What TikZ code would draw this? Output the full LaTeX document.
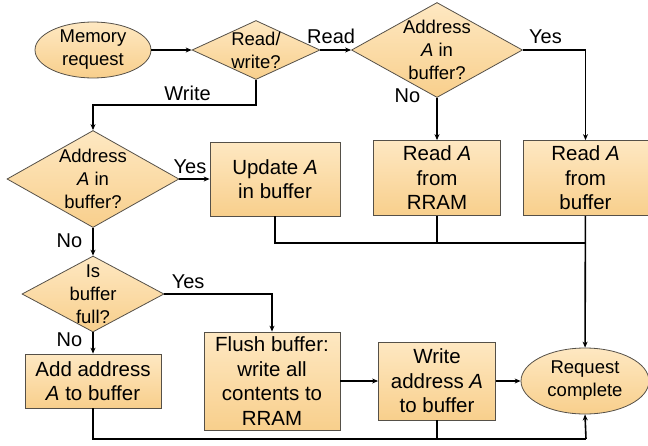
\documentclass[tikz,border=0pt]{standalone}
\usepackage{fontspec}
\setmainfont{Liberation Sans}
\definecolor{boxtop}{HTML}{FEE8C2}
\definecolor{boxbot}{HTML}{F8CF8C}
\definecolor{edge}{HTML}{555048}
\usetikzlibrary{arrows.meta,positioning,shapes.geometric}
\tikzset{block/.style={draw=edge,line width=.8pt,top color=boxtop,bottom color=boxbot,align=center,inner sep=0pt},arr/.style={-{Stealth[length=6pt,width=5pt]},draw=black,line width=1.6pt},note/.style={font=\fontsize{20}{24}\selectfont,text=black,inner sep=2pt}}

\begin{document}
\begin{tikzpicture}[x=1pt,y=-1pt,font=\fontsize{18.5}{23}\selectfont,
proc/.style={block,rectangle,font=\fontsize{20.5}{24.5}\selectfont},
term/.style={block,ellipse},
dec/.style={block,diamond,label={[align=center]center:#1}},
line/.style={draw=black,line width=1.6pt}]
\useasboundingbox (0,0) rectangle (648,445);
\node[term,minimum width=116pt,minimum height=51pt] (mreq) at (93,50) {Memory\\request};
\node[dec={Read/\\write?},minimum width=128pt,minimum height=59pt] (rw) at (256,50) {};
\node[dec={Address\\\textit{A} in\\buffer?},minimum width=171pt,minimum height=95pt] (rhit) at (437,50) {};
\node[proc,minimum width=127pt,minimum height=75pt] (rram) at (437,178) {Read \textit{A}\\from\\RRAM};
\node[proc,minimum width=125pt,minimum height=75pt] (rbuf) at (585.5,178) {Read \textit{A}\\from\\buffer};
\node[dec={Address\\\textit{A} in\\buffer?},minimum width=172pt,minimum height=97pt] (whit) at (93,179) {};
\node[proc,minimum width=130pt,minimum height=74pt] (upd) at (275,179) {Update \textit{A}\\in buffer};
\node[dec={Is\\buffer\\full?},minimum width=142pt,minimum height=76pt] (full) at (93,294) {};
\node[proc,minimum width=136pt,minimum height=54pt] (add) at (93,381) {Add address\\\textit{A} to buffer};
\node[proc,minimum width=136pt,minimum height=98pt] (flush) at (272,381) {Flush buffer:\\write all\\contents to\\RRAM};
\node[proc,minimum width=117pt,minimum height=78pt] (wadd) at (437,381) {Write\\address \textit{A}\\to buffer};
\node[term,minimum width=128pt,minimum height=66pt] (done) at (585,381) {Request\\complete};
\coordinate (j1) at (586,243);
\coordinate (j2) at (586,439);
% read path
\draw[arr] (mreq) -- (rw);
\draw[arr] (rw) -- node[note,above=4pt,pos=.35] (lread) {Read} (rhit);
\draw[arr] (rhit.east) -| node[note,above=4pt,pos=.18] (ly1) {Yes} (rbuf.north);
\draw[arr] (rhit) -- node[note,pos=0,left,xshift=-14pt,yshift=2pt] (ln1) {No} (rram);
% write path
\draw[arr] (rw.south) |- ++(0,25) -| node[note,above=1pt,pos=.21] (lwr) {Write} (whit.north);
\draw[arr] (whit) -- node[note,above=3pt,pos=.35] (ly2) {Yes} (upd);
\draw[arr] (whit) -- node[note,left=8pt,pos=.45] (ln2) {No} (full);
\draw[arr] (full.east) -| node[note,above=3pt,pos=.11] (ly3) {Yes} (flush.north);
\draw[arr] (full) -- node[note,left=8pt,pos=.35] (ln3) {No} (add);
\draw[arr] (flush) -- (wadd);
\draw[arr] (wadd) -- (done);
% joins to end
\draw[line] (upd.south) |- (j1) (rram.south) -- (rram.south|-j1);
\draw[arr] (rbuf) -- (done);
\draw[line] (add.south) |- (j2) (wadd.south) -- (wadd.south|-j2);
\draw[arr] (j2) -- (done.south);
\end{tikzpicture}
\end{document}
